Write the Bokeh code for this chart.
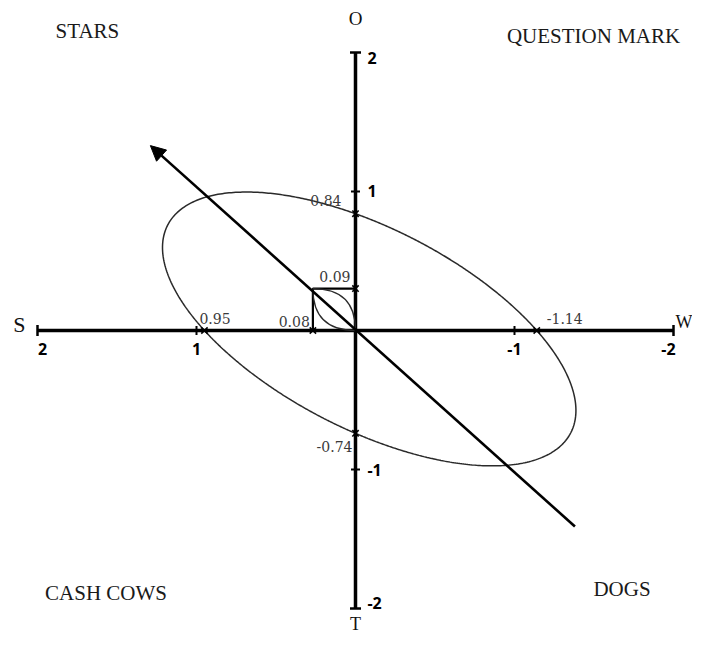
import numpy as np
from bokeh.plotting import figure
from bokeh.models import Range1d, Arrow, NormalHead
from bokeh.core.properties import value
from bokeh.embed import file_html
from bokeh.resources import INLINE

# ---------------- data ----------------
quadrant_names = ["STARS", "QUESTION MARK", "CASH COWS", "DOGS"]
axis_end_letters = ["S", "W", "O", "T"]          # +x end, -x end, +y end, -y end
axis_ticks = [2, 1, -1, -2]
axis_tick_labels = ["2", "1", "-1", "-2"]
ellipse_x_intercepts = [0.95, -1.14]
ellipse_x_labels = ["0.95", "-1.14"]
ellipse_y_intercepts = [0.84, -0.74]
ellipse_y_labels = ["0.84", "-0.74"]
inset_x = 0.08
inset_y = 0.09
inset_labels = ["0.08", "0.09"]
arrow_tail = [-1.38, -1.41]
arrow_tip = [1.29, 1.33]
ellipse_xy_coef = -1.45   # tilt term of the ellipse conic

# style / layout constants
INSET_ZOOM = 3.35         # the small 0.08 x 0.09 box is drawn enlarged, as in the source
SERIF = value("Liberation Serif")
VAL_FONT = value("DejaVu Serif")
TICK_FONT = value("Noto Sans")

p = figure(width=692, height=636, output_backend="svg", toolbar_location=None,
           x_range=Range1d(2.2327, -2.1195), y_range=Range1d(-2.2014, 2.374),
           min_border=0, x_axis_type=None, y_axis_type=None,
           background_fill_color="white", border_fill_color="white")
p.grid.visible = False
p.outline_line_color = None

# ---------------- ellipse through the four intercepts ----------------
x1, x2 = ellipse_x_intercepts
y1, y2 = ellipse_y_intercepts
A = -1.0 / (x1 * x2)
D = -A * (x1 + x2)
C = -1.0 / (y1 * y2)
E = -C * (y1 + y2)
B = ellipse_xy_coef
M = np.array([[A, B / 2], [B / 2, C]])
c = -0.5 * np.linalg.solve(M, np.array([D, E]))
k = 1.0 + c @ M @ c
th = np.linspace(0, 2 * np.pi, 721)
u = np.vstack([np.cos(th), np.sin(th)])
r = np.sqrt(k / np.einsum("ij,ik,kj->j", u, M, u))
ex = c[0] + r * u[0]
ey = c[1] + r * u[1]
p.line(ex, ey, line_color="#2a2a2a", line_width=1.5)

# ---------------- axes ----------------
p.segment(x0=[axis_ticks[0], 0], y0=[0, axis_ticks[0]],
          x1=[axis_ticks[-1], 0], y1=[0, axis_ticks[-1]],
          line_color="black", line_width=3.5)

ticks = np.array(axis_ticks, dtype=float)
inner = ticks[np.abs(ticks) < 2]
ends = ticks[np.abs(ticks) == 2]
p.scatter(inner, np.zeros_like(inner), marker="dash", angle=np.pi / 2, size=9,
          line_color="black", line_width=2)
p.scatter(ends, np.zeros_like(ends), marker="dash", angle=np.pi / 2, size=11,
          line_color="black", line_width=2.5)
p.scatter(np.zeros_like(inner), inner, marker="dash", size=9,
          line_color="black", line_width=2)
p.scatter(np.zeros_like(ends), ends, marker="dash", size=11,
          line_color="black", line_width=2.5)

end_off = np.where(np.abs(ticks) == 2, 5 * np.sign(ticks), 0)
p.text(x=ticks, y=np.zeros_like(ticks), text=axis_tick_labels,
       x_offset=end_off, y_offset=19,
       text_font=TICK_FONT, text_font_style="bold", text_font_size="16px",
       text_align="center", text_baseline="middle", text_color="black")
p.text(x=np.zeros_like(ticks), y=ticks, text=axis_tick_labels,
       x_offset=12, y_offset=np.where(np.abs(ticks) == 2, 6 * np.sign(ticks), 0),
       text_font=TICK_FONT, text_font_style="bold", text_font_size="16px",
       text_align="left", text_baseline="middle", text_color="black")

# axis end letters
p.text(x=[axis_ticks[0]], y=[0], text=[axis_end_letters[0]], x_offset=-12, y_offset=-6,
       text_font=SERIF, text_font_size="22px", text_align="right",
       text_baseline="middle", text_color="#111111")
p.text(x=[axis_ticks[-1]], y=[0], text=[axis_end_letters[1]], x_offset=2, y_offset=-8,
       text_font=SERIF, text_font_size="18px", text_align="left",
       text_baseline="middle", text_color="#111111")
p.text(x=[0], y=[axis_ticks[0]], text=[axis_end_letters[2]], y_offset=-34,
       text_font=SERIF, text_font_size="19px", text_align="center",
       text_baseline="middle", text_color="#111111")
p.text(x=[0], y=[axis_ticks[-1]], text=[axis_end_letters[3]], y_offset=25,
       text_font=SERIF, text_font_size="18px", text_align="center",
       text_baseline="bottom", text_color="#111111")

# ---------------- inset box and lens ----------------
rx = inset_x * INSET_ZOOM
ry = inset_y * INSET_ZOOM
p.line([rx, rx, 0], [0, ry, ry], line_color="black", line_width=2.2)
p.quadratic(x0=[0, 0], y0=[0, 0], x1=[rx, rx], y1=[ry, ry],
            cx=[rx, 0], cy=[0, ry], line_color="#2a2a2a", line_width=1.3)

# ---------------- cross marks ----------------
mx = list(ellipse_x_intercepts) + [rx]
p.scatter(mx, [0] * len(mx), marker="x", size=9, line_color="black", line_width=1.6)
my = list(ellipse_y_intercepts) + [ry]
p.scatter([0] * len(my), my, marker="x", size=9, line_color="black", line_width=1.6)

# ---------------- value labels ----------------
val_style = dict(text_font=VAL_FONT, text_font_size="14px", text_color="#3a3a3a")
p.text(x=[ellipse_x_intercepts[0]], y=[0], text=[ellipse_x_labels[0]],
       x_offset=-5, y_offset=-6, text_align="left", text_baseline="bottom", **val_style)
p.text(x=[ellipse_x_intercepts[1]], y=[0], text=[ellipse_x_labels[1]],
       x_offset=10, y_offset=-6, text_align="left", text_baseline="bottom", **val_style)
p.text(x=[0], y=[ellipse_y_intercepts[0]], text=[ellipse_y_labels[0]],
       x_offset=-14, y_offset=-8, text_align="right", text_baseline="bottom", **val_style)
p.text(x=[0], y=[ellipse_y_intercepts[1]], text=[ellipse_y_labels[1]],
       x_offset=-3, y_offset=8, text_align="right", text_baseline="top", **val_style)
p.text(x=[rx], y=[0], text=[inset_labels[0]],
       x_offset=-3, y_offset=-3, text_align="right", text_baseline="bottom", **val_style)
p.text(x=[0], y=[ry], text=[inset_labels[1]],
       x_offset=-5, y_offset=-7, text_align="right", text_baseline="bottom", **val_style)

# ---------------- arrow ----------------
p.add_layout(Arrow(end=NormalHead(size=15, fill_color="black", line_color="black"),
                   x_start=arrow_tail[0], y_start=arrow_tail[1],
                   x_end=arrow_tip[0], y_end=arrow_tip[1],
                   line_color="black", line_width=2.6))

# ---------------- quadrant names ----------------
q_x = [1.686, -1.497, 1.569, -1.676]
q_y = [2.151, 2.122, -1.888, -1.860]
p.text(x=q_x, y=q_y, text=quadrant_names, text_font=SERIF, text_font_size="21px",
       text_align="center", text_baseline="middle", text_color="#1a1a1a")

open("out.html", "w").write(file_html(p, INLINE))
